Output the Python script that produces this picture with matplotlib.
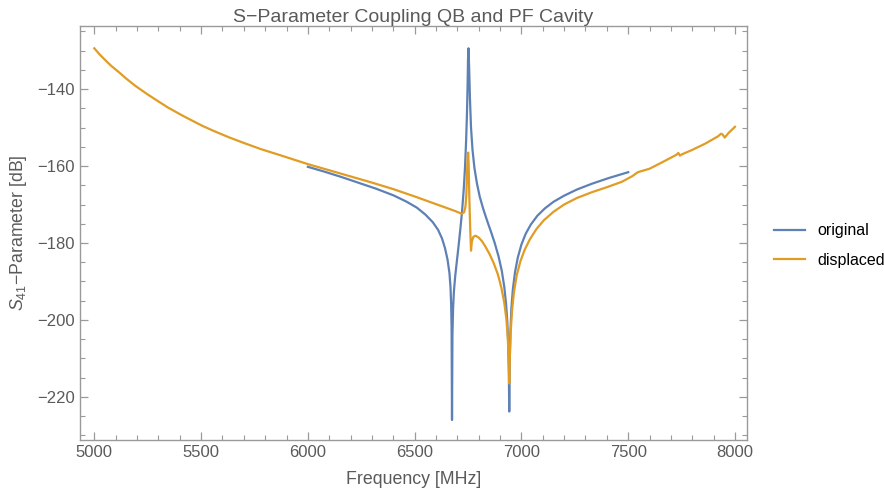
import numpy as np
import matplotlib.pyplot as plt
from matplotlib.ticker import MultipleLocator

# values (MHz, dB)
freq_orig = [6000, 6080, 6160, 6240, 6320, 6400, 6460, 6510, 6550, 6585, 6610, 6628,
             6642, 6654, 6663, 6668, 6671, 6673, 6675, 6677, 6680, 6684, 6690, 6698,
             6706, 6714, 6722, 6730, 6736, 6741, 6745, 6748, 6750, 6752, 6755, 6759,
             6764, 6771, 6780, 6792, 6805, 6822, 6840, 6857, 6875, 6893, 6908, 6920,
             6928, 6934, 6938, 6941, 6943, 6945, 6948, 6953, 6960, 6970, 6983, 7000,
             7020, 7044, 7075, 7110, 7150, 7200, 7260, 7330, 7410, 7500]
s41_orig = [-160.2, -161.5, -162.9, -164.4, -165.9, -167.6, -169.2, -170.8, -172.6, -174.6,
            -176.6, -178.8, -181.3, -184.3, -187.8, -191.5, -196.0, -202.0, -226.0, -204.0,
            -197.0, -192.5, -188.6, -184.6, -180.6, -176.4, -171.8, -166.0, -160.2, -153.5,
            -146.5, -139.0, -132.0, -129.4, -134.0, -142.5, -150.0, -155.8, -160.5, -164.6,
            -168.0, -171.3, -174.3, -177.0, -180.0, -183.5, -187.2, -191.5, -195.8, -200.5,
            -206.0, -213.0, -223.8, -212.0, -204.0, -197.0, -192.0, -187.6, -183.8, -180.4,
            -177.6, -175.2, -172.9, -171.0, -169.3, -167.7, -166.1, -164.6, -163.1, -161.6]

freq_disp = [5000, 5025, 5050, 5080, 5115, 5150, 5193, 5250, 5300, 5348, 5420, 5504,
             5560, 5629, 5700, 5780, 5877, 6000, 6100, 6200, 6300, 6400, 6500, 6580,
             6640, 6690, 6720, 6732, 6738, 6742, 6745, 6747, 6749, 6751, 6753, 6756,
             6760, 6764, 6768, 6775, 6785, 6800, 6815, 6830, 6850, 6870, 6890, 6906,
             6920, 6930, 6936, 6940, 6943, 6946, 6950, 6956, 6965, 6978, 6995, 7015,
             7040, 7070, 7105, 7150, 7200, 7260, 7330, 7400, 7470, 7520, 7545, 7600,
             7660, 7725, 7735, 7742, 7750, 7800, 7860, 7920, 7935, 7942, 7952, 7970, 8000]
s41_disp = [-129.4, -131.0, -132.4, -134.0, -135.6, -137.3, -139.2, -141.4, -143.2, -144.9,
            -147.1, -149.5, -150.9, -152.5, -154.0, -155.6, -157.3, -159.5, -161.1, -162.7,
            -164.3, -166.0, -167.9, -169.5, -170.7, -171.7, -172.4, -172.0, -170.5, -167.5,
            -163.0, -159.5, -157.0, -156.5, -160.0, -168.0, -176.0, -182.0, -179.6, -178.4,
            -178.1, -178.6, -179.5, -180.8, -182.8, -185.2, -188.2, -191.6, -195.6, -200.0,
            -204.5, -209.5, -216.5, -209.0, -203.0, -197.6, -192.8, -188.4, -184.8, -181.8,
            -179.0, -176.4, -174.1, -171.9, -170.0, -168.3, -166.8, -165.5, -164.1, -162.6,
            -161.6, -160.7, -159.0, -157.1, -156.6, -157.3, -157.0, -155.8, -154.2, -152.3,
            -151.6, -151.8, -152.6, -151.4, -149.8]

blue = '#5e81b5'
orange = '#e19c24'
frame_grey = '#9a9a9a'
text_grey = '#5a5a5a'

plt.rcParams['font.family'] = ['Liberation Sans', 'DejaVu Sans']
plt.rcParams['mathtext.fontset'] = 'custom'
plt.rcParams['mathtext.rm'] = 'Liberation Sans'
plt.rcParams['mathtext.it'] = 'Liberation Sans:italic'

fig = plt.figure(figsize=(8.84, 4.93), dpi=100)
ax = fig.add_axes([0.0905, 0.1075, 0.7542, 0.8398])

ax.plot(freq_orig, s41_orig, color=blue, lw=1.6, label='original')
ax.plot(freq_disp, s41_disp, color=orange, lw=1.6, label='displaced')

ax.set_xlim(4933, 8055)
ax.set_ylim(-231.2, -123.6)

ax.xaxis.set_major_locator(MultipleLocator(500))
ax.xaxis.set_minor_locator(MultipleLocator(100))
ax.yaxis.set_major_locator(MultipleLocator(20))
ax.yaxis.set_minor_locator(MultipleLocator(5))
ax.tick_params(which='both', direction='in', top=True, right=True, color=frame_grey,
               labelcolor=text_grey, labelsize=12)
ax.tick_params(which='major', length=6, width=0.9)
ax.tick_params(which='minor', length=3.5, width=0.8)
for sp in ax.spines.values():
    sp.set_color(frame_grey)
    sp.set_linewidth(1.0)

ax.set_title('S\u2212Parameter Coupling QB and PF Cavity', color=text_grey, fontsize=14, pad=3)
ax.set_xlabel('Frequency [MHz]', color=text_grey, fontsize=12.8, labelpad=8)
ax.set_ylabel('$S_{41}$\u2212Parameter [dB]', color=text_grey, fontsize=12.8, labelpad=6)

ax.legend(loc='center left', bbox_to_anchor=(1.02, 0.47), frameon=False, fontsize=11.5,
          handlelength=1.9, labelspacing=0.9)

fig.savefig('out.png', dpi=100)
